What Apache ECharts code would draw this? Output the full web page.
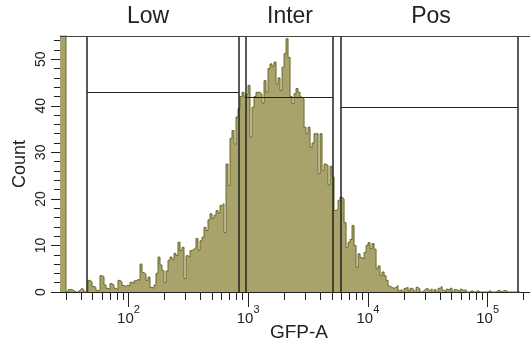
<!DOCTYPE html>
<html lang="en">
<head>
    <meta charset="UTF-8">
    <title>GFP-A</title>
    <style>html, body {margin: 0; padding: 0; background: #fff;}</style>
</head>
<body>
<div id="main" style="width: 530px;height:344px;"></div>
<script src="https://cdn.jsdelivr.net/npm/echarts@6/dist/echarts.min.js"></script>
<script>
    //直方图的组，log10(GFP-A) 上等宽
    var binStartLog = 1.428;
    var binStepLog = 0.01671;
    var counts = [
        80, 80, 80, 0, 0.5, 0.5, 0.3, 0, 0, 0.4,
        0.8, 0.5, 0, 0, 2.5, 2.2, 1.2, 1.0, 0.3, 0.5,
        3.5, 3.3, 1.5, 0.8, 0.6, 1.8, 1.5, 0.8, 0.5, 2.5,
        2.2, 1.4, 1.2, 1.5, 1.2, 2.1, 1.8, 2.4, 2.7, 2.5,
        6.0, 4.2, 3.8, 2.5, 3.2, 1.0, 0.8, 1.5, 4.0, 7.5,
        5.8, 4.6, 2.0, 4.5, 6.8, 7.5, 7.0, 8.3, 7.8, 10.7,
        8.9, 9.6, 2.9, 7.8, 7.5, 8.9, 9.2, 9.6, 11.5, 9.0,
        11.0, 11.8, 13.9, 13.2, 15.5, 16.8, 15.8, 16.5, 17.5, 17.0,
        18.6, 19.0, 12.8, 27.5, 22.9, 33.0, 34.7, 31.8, 37.6, 39.4,
        42.0, 42.9, 41.9, 42.5, 44.4, 33.3, 39.7, 42.0, 42.9, 42.9,
        42.5, 40.6, 45.4, 42.9, 48.0, 49.0, 48.5, 49.4, 44.7, 46.0,
        43.3, 48.3, 51.2, 54.4, 50.4, 42.0, 40.5, 42.6, 43.7, 42.9,
        41.9, 41.5, 35.4, 34.0, 35.4, 31.1, 32.0, 34.0, 34.0, 25.4,
        34.0, 26.1, 27.5, 27.2, 23.0, 27.0, 24.7, 17.5, 17.8, 19.7,
        20.4, 20.0, 14.9, 9.6, 10.7, 11.3, 14.3, 10.0, 5.3, 8.2,
        7.4, 7.1, 8.5, 10.0, 10.6, 9.3, 10.4, 9.2, 5.0, 5.6,
        3.5, 4.3, 3.5, 2.5, 1.3, 1.0, 0.8, 1.0, 1.4, 0.3,
        0.5, 0, 0.8, 1.0, 0.3, 0.8, 0.5, 0, 1.0, 0.6,
        0, 0.3, 0.7, 0.7, 0.3, 0.7, 0, 0.5, 0, 0.8,
        1.2, 0.4, 0, 0.6, 0.3, 0.8, 0, 0.5, 0.4, 0,
        0.6, 0.3, 0.5, 0, 0, 0.3, 0, 0, 0.3, 0,
        0, 0, 0, 0, 0.3, 0, 0, 0, 0.3, 0.3,
        0, 0.3, 0.3, 0, 0, 0, 0, 0, 0, 0
    ];

    //门: 左右边界 (GFP-A) 和横线高度 (Count)
    var gateNames = ['Low', 'Inter', 'Pos'];
    var gateLeft = [45, 950, 5930];
    var gateRight = [838, 5150, 177000];
    var gateLevel = [42.9, 41.8, 39.6];

    //刻度
    var xMin = 26.8, xMax = 226000;
    var xMajorTicks = [100, 1000, 10000, 100000];
    var xMinorTicks = [30, 40, 50, 60, 70, 80, 90,
        200, 300, 400, 500, 600, 700, 800, 900,
        2000, 3000, 4000, 5000, 6000, 7000, 8000, 9000,
        20000, 30000, 40000, 50000, 60000, 70000, 80000, 90000,
        200000];
    var yMax = 55;
    var yMajorTicks = [0, 10, 20, 30, 40, 50];
    var yMinorTicks = [2, 4, 6, 8, 12, 14, 16, 18, 22, 24, 26, 28, 32, 34, 36, 38,
        42, 44, 46, 48, 52, 54];

    var font = '"Liberation Sans", Arial, sans-serif';
    var ink = '#222';
    var lg = function (v) { return Math.log10(v); };

    var histData = [];
    for (var i = 0; i < counts.length; i++) {
        histData.push([binStartLog + i * binStepLog, counts[i]]);
    }
    histData.push([binStartLog + counts.length * binStepLog, 0]);

    var gateLines = [];
    for (var g = 0; g < gateNames.length; g++) {
        gateLines.push({xAxis: lg(gateLeft[g]), lineStyle: {width: 1.5}});
        gateLines.push({xAxis: lg(gateRight[g]), lineStyle: {width: 1.5}});
        gateLines.push([{coord: [lg(gateLeft[g]), gateLevel[g]]}, {coord: [lg(gateRight[g]), gateLevel[g]]}]);
    }
    gateLines.push({yAxis: yMax, lineStyle: {color: '#444', width: 1}});

    var app = echarts.init(document.getElementById('main'));
    var option = {
        animation: false,
        backgroundColor: '#fff',
        textStyle: {fontFamily: font, color: ink},
        grid: {left: 60, right: 0, top: 36, bottom: 52, containLabel: false, outerBoundsMode: 'none'},
        xAxis: [
            {
                type: 'value', position: 'bottom', min: lg(xMin), max: lg(xMax),
                name: 'GFP-A', nameLocation: 'middle', nameGap: 31, nameMoveOverlap: false,
                nameTextStyle: {fontSize: 19, color: ink, fontFamily: font, padding: [0, 0, 0, 8]},
                axisLine: {show: true, onZero: false, lineStyle: {color: ink, width: 1}},
                axisTick: {show: true, length: 15, customValues: xMajorTicks.map(lg), lineStyle: {color: ink}},
                axisLabel: {
                    show: true, margin: 12, customValues: xMajorTicks.map(lg),
                    formatter: function (v) { return '{b|10}{s|' + Math.round(v) + '}'; },
                    rich: {
                        b: {fontSize: 15, fontFamily: font, color: ink, lineHeight: 22, verticalAlign: 'bottom'},
                        s: {fontSize: 11, fontFamily: font, color: ink, lineHeight: 10, verticalAlign: 'top'}
                    }
                },
                splitLine: {show: false}
            },
            {
                type: 'value', position: 'bottom', min: lg(xMin), max: lg(xMax),
                axisLine: {show: false},
                axisTick: {show: true, length: 8, customValues: xMinorTicks.map(lg), lineStyle: {color: ink}},
                axisLabel: {show: false},
                splitLine: {show: false}
            }
        ],
        yAxis: [
            {
                type: 'value', position: 'left', min: 0, max: yMax,
                name: 'Count', nameLocation: 'middle', nameGap: 31, nameRotate: 90, nameMoveOverlap: false,
                nameTextStyle: {fontSize: 18, color: ink, fontFamily: font},
                axisLine: {show: true, onZero: false, lineStyle: {color: ink, width: 1}},
                axisTick: {show: true, length: 9, customValues: yMajorTicks, lineStyle: {color: ink}},
                axisLabel: {show: true, rotate: 90, margin: 12, fontSize: 14, color: ink, fontFamily: font, customValues: yMajorTicks},
                splitLine: {show: false}
            },
            {
                type: 'value', position: 'left', min: 0, max: yMax,
                axisLine: {show: false},
                axisTick: {show: true, length: 6, customValues: yMinorTicks, lineStyle: {color: ink}},
                axisLabel: {show: false},
                splitLine: {show: false}
            }
        ],
        series: [
            {
                type: 'line',
                xAxisIndex: 0,
                yAxisIndex: 0,
                step: 'end',
                symbol: 'none',
                clip: true,
                silent: true,
                data: histData,
                lineStyle: {color: '#6b692a', width: 1},
                areaStyle: {color: '#a8a36b', opacity: 1},
                markLine: {
                    silent: true,
                    symbol: ['none', 'none'],
                    label: {show: false},
                    lineStyle: {color: ink, width: 1, type: 'solid'},
                    emphasis: {disabled: true},
                    data: gateLines
                }
            }
        ],
        graphic: [
            {type: 'text', x: 148, y: 17, style: {text: gateNames[0], font: '23px ' + font, fill: ink, textAlign: 'center', textVerticalAlign: 'middle', align: 'center', verticalAlign: 'middle'}},
            {type: 'text', x: 290, y: 17, style: {text: gateNames[1], font: '23px ' + font, fill: ink, textAlign: 'center', textVerticalAlign: 'middle', align: 'center', verticalAlign: 'middle'}},
            {type: 'text', x: 431, y: 17, style: {text: gateNames[2], font: '23px ' + font, fill: ink, textAlign: 'center', textVerticalAlign: 'middle', align: 'center', verticalAlign: 'middle'}}
        ]
    };
    app.setOption(option);
</script>
</body>
</html>
